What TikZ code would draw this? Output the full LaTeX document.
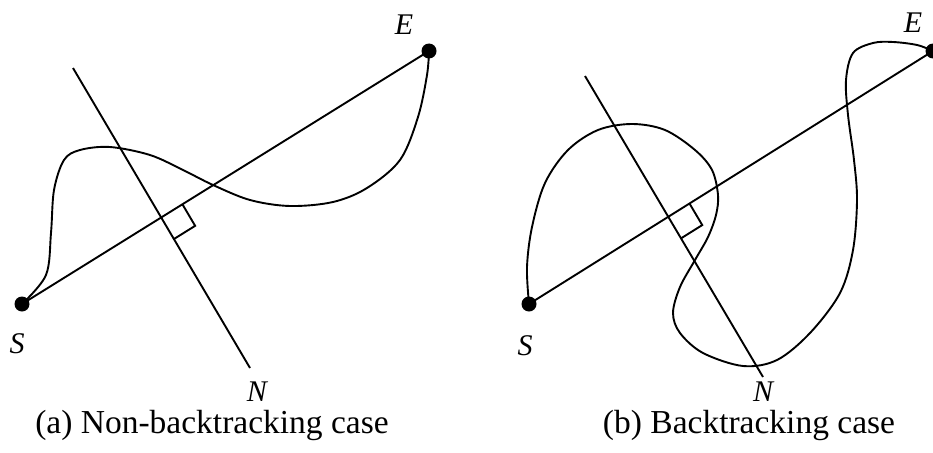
\documentclass[tikz,border=0pt]{standalone}
\usepackage{fontspec}
\setmainfont{Liberation Serif}
\usetikzlibrary{calc}
\begin{document}
\begin{tikzpicture}[x=1pt,y=-1pt,
  ln/.style={line width=1.9pt},
  dotnode/.style={circle,fill=black,inner sep=0pt,minimum size=15pt},
  lab/.style={font=\fontsize{30}{34}\selectfont\itshape,inner sep=0pt,text height=0.66em,text depth=0pt},
  captxt/.style={font=\fontsize{33.5}{38}\selectfont,anchor=base,inner sep=0pt}]
\useasboundingbox (0,0) rectangle (933,452);
% ---------- (a) ----------
\node[dotnode] (Sa) at (22,304) {};
\node[dotnode] (Ea) at (429,51) {};
\coordinate (Na1) at (73,68);
\coordinate (Na2) at (250,368);
\draw[ln] (Sa.center) -- (Ea.center);
\draw[ln] (Na1) -- (Na2);
\coordinate (Fa) at (intersection of Sa.center--Ea.center and Na1--Na2);
\coordinate (Pa1) at ($(Fa)!25pt!(Ea.center)$);
\coordinate (Pa3) at ($(Fa)!25pt!(Na2)$);
\draw[ln] (Pa1) -- ($(Pa1)+(Pa3)-(Fa)$) -- (Pa3);
\draw[ln] plot[smooth,tension=0.55] coordinates {(22,304) (46,275) (51,233) (54,190) (64,160) (80,150) (110,147) (150,155) (183,170) (213,185) (250,200) (290,206) (333,202) (367,188) (400,160) (418,117) (427,75) (429,51)};
\node[lab] (SaL) at (17,350) {S};
\node[lab] (EaL) at (404,31) {E};
\node[lab] (NaL) at (257,398) {N};
\node[captxt] (capA) at (212,433) {(a) Non-backtracking case};
% ---------- (b) ----------
\node[dotnode] (Sb) at (529,304) {};
\node[dotnode] (Eb) at (933,51) {};
\coordinate (Nb1) at (585,76);
\coordinate (Nb2) at (763,377);
\draw[ln] (Sb.center) -- (Eb.center);
\draw[ln] (Nb1) -- (Nb2);
\coordinate (Fb) at (intersection of Sb.center--Eb.center and Nb1--Nb2);
\coordinate (Pb1) at ($(Fb)!25pt!(Eb.center)$);
\coordinate (Pb3) at ($(Fb)!25pt!(Nb2)$);
\draw[ln] (Pb1) -- ($(Pb1)+(Pb3)-(Fb)$) -- (Pb3);
\draw[ln] plot[smooth,tension=0.55] coordinates {(529,304) (527,267) (532,227) (545,183) (568,150) (598,130) (632,124) (665,130) (695,150) (712,170) (718,195) (716,215) (708,237) (695,260) (680,287) (673,313) (680,333) (703,353) (743,366) (777,360) (810,333) (840,293) (853,250) (857,200) (854,160) (848,115) (846,80) (853,53) (873,43) (893,42) (917,45) (933,51)};
\node[lab] (SbL) at (525,352) {S};
\node[lab] (EbL) at (913,29) {E};
\node[lab] (NbL) at (763,398) {N};
\node[captxt] (capB) at (749,433) {(b) Backtracking case};
\end{tikzpicture}
\end{document}
